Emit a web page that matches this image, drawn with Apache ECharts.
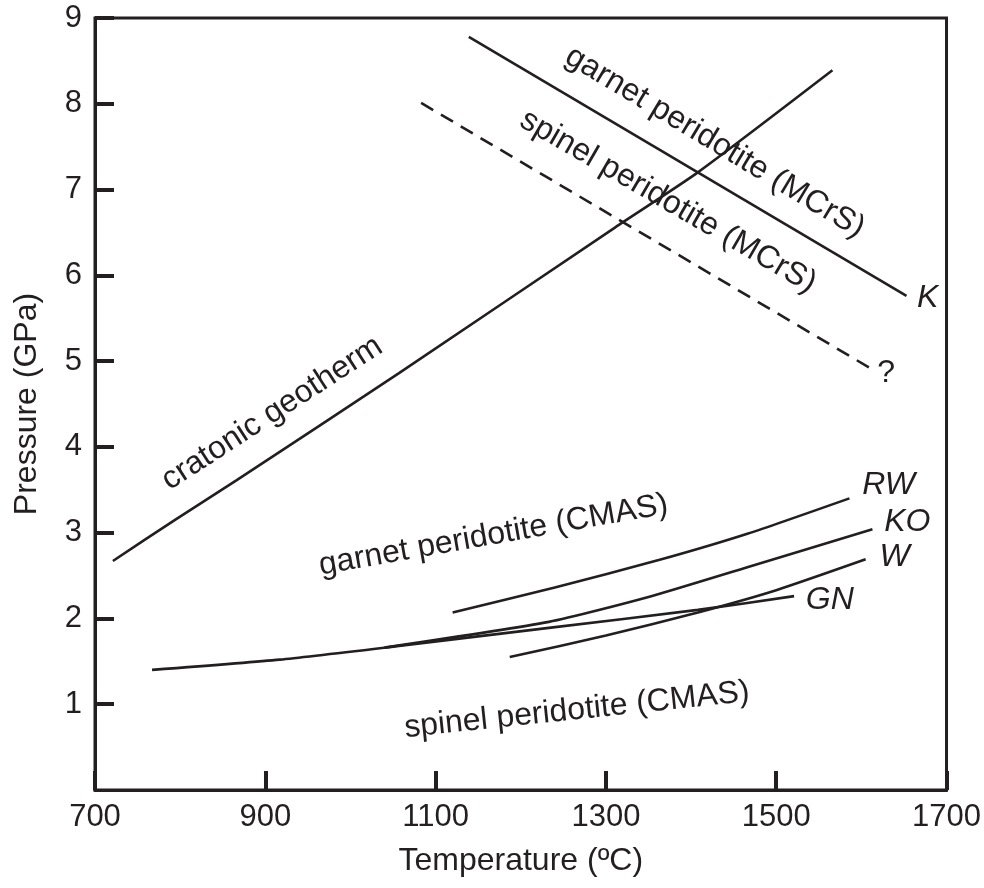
<!DOCTYPE html>
<html>
<head>
<meta charset="utf-8">
<script src="https://cdn.jsdelivr.net/npm/echarts@6/dist/echarts.min.js"></script>
<style>
  html, body { margin: 0; padding: 0; background: #fff; }
  #chart { width: 984px; height: 888px; }
</style>
</head>
<body>
<div id="chart"></div>
<script>
// temperature (ºC), pressure (GPa) pairs
var geotherm = [[721, 2.67], [794, 3.15], [866, 3.61], [1057, 4.86], [1311, 6.56], [1408, 7.20], [1566, 8.39]];
var garnetMCrS = [[1139, 8.78], [1653, 5.76]];
var spinelMCrS = [[1083, 8.01], [1610, 4.92]];
var curveRW = [[1120, 2.07], [1240, 2.36], [1362, 2.68], [1467, 2.99], [1586, 3.40]];
var curveKO = [[1040, 1.66], [1233, 1.96], [1350, 2.25], [1467, 2.60], [1613, 3.04]];
var curveW = [[1187, 1.55], [1300, 1.80], [1408, 2.07], [1500, 2.33], [1605, 2.69]];
var curveGN = [[767, 1.40], [917, 1.52], [1057, 1.68], [1233, 1.89], [1408, 2.10], [1521, 2.26]];

// annotations: text, anchor [T, P], angle in degrees, italic
var notes = [
  ['garnet peridotite (MCrS)', [1428, 7.55], -31, false],
  ['spinel peridotite (MCrS)', [1373, 6.86], -30, false],
  ['cratonic geotherm', [908, 4.39], 33, false],
  ['garnet peridotite (CMAS)', [1168, 2.97], 10, false],
  ['spinel peridotite (CMAS)', [1266, 0.93], 6, false],
  ['K', [1678, 5.73], 0, true],
  ['?', [1629, 4.86], 0, false],
  ['RW', [1632, 3.55], 0, true],
  ['KO', [1654, 3.12], 0, true],
  ['W', [1639, 2.72], 0, true],
  ['GN', [1563, 2.21], 0, true]
];

var ink = '#231f20';
var font = '"Liberation Sans", Arial, sans-serif';

function line(data, smooth, dashed) {
  return {
    type: 'line',
    data: data,
    showSymbol: false,
    smooth: smooth,
    silent: true,
    lineStyle: { color: ink, width: 2.6, type: dashed ? [14, 9] : 'solid' }
  };
}

var myChart = echarts.init(document.getElementById('chart'));
myChart.setOption({
  animation: false,
  textStyle: { fontFamily: font },
  grid: {
    left: 95, right: 35, top: 18, bottom: 98,
    show: true, borderColor: ink, borderWidth: 3
  },
  xAxis: {
    type: 'value',
    min: 700, max: 1700, interval: 200,
    splitLine: { show: false },
    axisLine: { lineStyle: { color: ink, width: 3 } },
    axisTick: { inside: true, length: 19, lineStyle: { color: ink, width: 4 } },
    axisLabel: { color: ink, fontSize: 31, margin: 12, fontFamily: font, formatter: function (v) { return String(v); } },
    name: 'Temperature (ºC)',
    nameLocation: 'middle',
    nameGap: 55,
    nameTextStyle: { color: ink, fontSize: 32, fontFamily: font }
  },
  yAxis: {
    type: 'value',
    min: 0, max: 9, interval: 1,
    splitLine: { show: false },
    axisLine: { lineStyle: { color: ink, width: 3 } },
    axisTick: { inside: true, length: 19, lineStyle: { color: ink, width: 4 } },
    axisLabel: { color: ink, fontSize: 31, margin: 13, showMinLabel: false, fontFamily: font },
    name: 'Pressure (GPa)',
    nameLocation: 'middle',
    nameGap: 52,
    nameTextStyle: { color: ink, fontSize: 32, fontFamily: font }
  },
  series: [
    line(geotherm, 0.2, false),
    line(garnetMCrS, false, false),
    line(spinelMCrS, false, true),
    line(curveRW, 0.2, false),
    line(curveKO, 0.2, false),
    line(curveW, 0.2, false),
    line(curveGN, 0.2, false)
  ]
});

var texts = notes.map(function (n) {
  var p = myChart.convertToPixel({ gridIndex: 0 }, n[1]);
  return {
    type: 'text',
    x: p[0], y: p[1],
    rotation: n[2] * Math.PI / 180,
    silent: true,
    style: {
      text: n[0],
      fill: ink,
      fontSize: 32,
      fontFamily: font,
      fontStyle: n[3] ? 'italic' : 'normal',
      align: 'center',
      verticalAlign: 'middle'
    }
  };
});
myChart.setOption({ graphic: texts });
</script>
</body>
</html>
